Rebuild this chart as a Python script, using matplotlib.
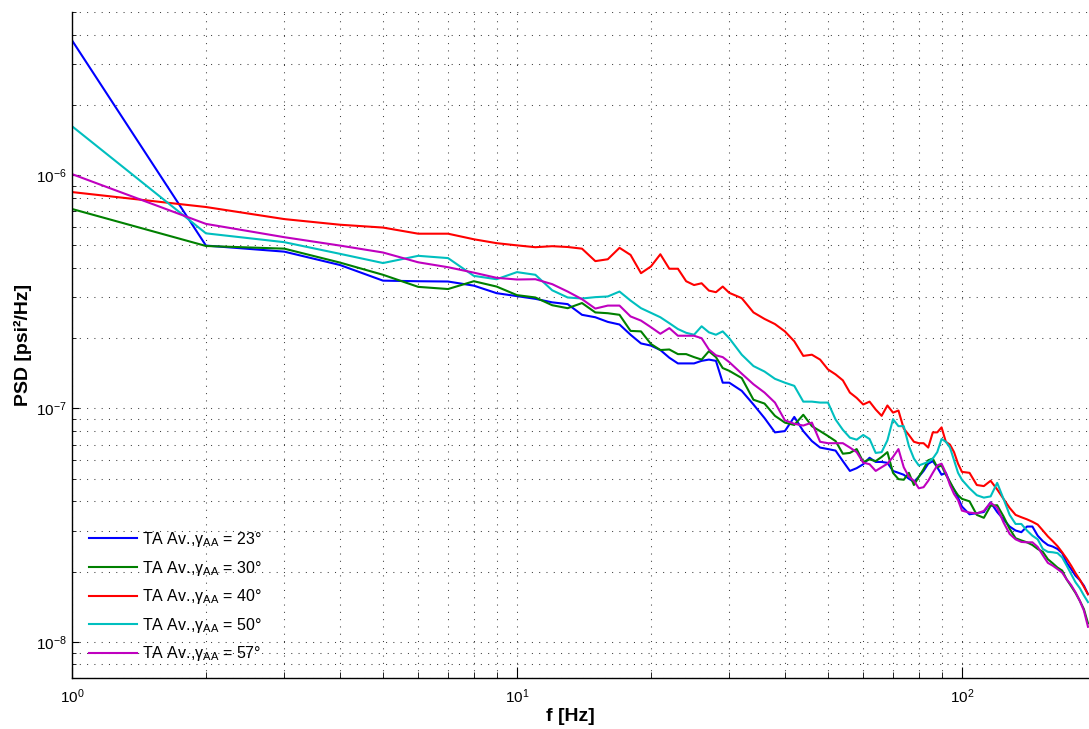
import numpy as np
import matplotlib
matplotlib.use("Agg")
import matplotlib.pyplot as plt
from matplotlib.ticker import LogLocator, LogFormatterSciNotation, NullFormatter

plt.rcParams['font.family'] = ['Liberation Sans', 'DejaVu Sans']
plt.rcParams['mathtext.fontset'] = 'custom'
plt.rcParams['mathtext.rm'] = 'Liberation Sans'
plt.rcParams['mathtext.it'] = 'Liberation Sans:italic'
plt.rcParams['mathtext.bf'] = 'Liberation Sans:bold'

# frequency grid [Hz]
freq = list(range(1, 31)) + list(range(32, 101, 2)) + list(range(104, 193, 4))

# PSD [psi^2/Hz]
psd_23 = [3.78e-6, 4.99e-7, 4.70e-7, 4.12e-7, 3.53e-7, 3.51e-7, 3.50e-7, 3.36e-7, 3.12e-7, 3.03e-7,
          2.95e-7, 2.85e-7, 2.80e-7, 2.52e-7, 2.46e-7, 2.35e-7, 2.29e-7, 2.07e-7, 1.90e-7, 1.86e-7,
          1.78e-7, 1.65e-7, 1.56e-7, 1.56e-7, 1.56e-7, 1.60e-7, 1.62e-7, 1.60e-7, 1.29e-7, 1.29e-7,
          1.19e-7, 1.04e-7, 9.1e-8, 7.9e-8, 8.0e-8, 9.2e-8, 8.0e-8, 7.25e-8, 6.8e-8, 6.7e-8,
          6.6e-8, 5.95e-8, 5.4e-8, 5.55e-8, 5.77e-8, 6.15e-8, 5.9e-8, 5.9e-8, 5.85e-8, 5.4e-8,
          5.3e-8, 5.2e-8, 5.0e-8, 4.85e-8, 5.1e-8, 5.4e-8, 5.8e-8, 5.95e-8, 5.6e-8, 5.2e-8,
          5.3e-8, 4.8e-8, 4.5e-8, 4.15e-8, 3.8e-8,
          3.52e-8, 3.56e-8, 3.6e-8, 3.96e-8, 3.6e-8, 3.35e-8, 3.12e-8, 3.0e-8, 2.95e-8, 3.12e-8,
          3.12e-8, 2.85e-8, 2.7e-8, 2.6e-8, 2.56e-8, 2.5e-8, 2.4e-8, 2.18e-8, 2.05e-8, 1.92e-8,
          1.84e-8, 1.74e-8, 1.6e-8]
psd_30 = [7.16e-7, 4.97e-7, 4.84e-7, 4.22e-7, 3.74e-7, 3.32e-7, 3.25e-7, 3.51e-7, 3.33e-7, 3.06e-7,
          2.99e-7, 2.77e-7, 2.69e-7, 2.83e-7, 2.58e-7, 2.56e-7, 2.52e-7, 2.15e-7, 2.14e-7, 1.89e-7,
          1.78e-7, 1.79e-7, 1.71e-7, 1.71e-7, 1.66e-7, 1.62e-7, 1.76e-7, 1.66e-7, 1.49e-7, 1.45e-7,
          1.35e-7, 1.09e-7, 1.05e-7, 9.3e-8, 8.7e-8, 8.5e-8, 9.4e-8, 8.4e-8, 8.0e-8, 7.62e-8,
          7.25e-8, 6.4e-8, 6.45e-8, 6.7e-8, 5.9e-8, 6.05e-8, 5.95e-8, 6.2e-8, 6.5e-8, 5.3e-8,
          4.98e-8, 4.95e-8, 5.3e-8, 4.7e-8, 5.1e-8, 5.5e-8, 6.0e-8, 6.1e-8, 5.6e-8, 5.7e-8,
          5.2e-8, 4.85e-8, 4.5e-8, 4.25e-8, 4.1e-8,
          4.0e-8, 3.5e-8, 3.4e-8, 3.83e-8, 3.85e-8, 3.45e-8, 3.05e-8, 2.78e-8, 2.72e-8, 2.67e-8,
          2.6e-8, 2.5e-8, 2.43e-8, 2.26e-8, 2.17e-8, 2.08e-8, 2.02e-8, 1.85e-8, 1.73e-8, 1.62e-8,
          1.5e-8, 1.38e-8, 1.2e-8]
psd_40 = [8.46e-7, 7.3e-7, 6.48e-7, 6.13e-7, 5.96e-7, 5.61e-7, 5.61e-7, 5.31e-7, 5.11e-7, 5.0e-7,
          4.91e-7, 4.96e-7, 4.92e-7, 4.84e-7, 4.28e-7, 4.36e-7, 4.88e-7, 4.55e-7, 3.80e-7, 4.06e-7,
          4.58e-7, 3.97e-7, 3.97e-7, 3.51e-7, 3.38e-7, 3.44e-7, 3.2e-7, 3.15e-7, 3.33e-7, 3.13e-7,
          2.97e-7, 2.58e-7, 2.42e-7, 2.30e-7, 2.14e-7, 1.94e-7, 1.68e-7, 1.70e-7, 1.62e-7, 1.47e-7,
          1.40e-7, 1.32e-7, 1.17e-7, 1.11e-7, 1.04e-7, 1.07e-7, 9.9e-8, 9.3e-8, 1.03e-7, 9.6e-8,
          9.8e-8, 8.2e-8, 7.7e-8, 7.2e-8, 7.1e-8, 7.1e-8, 6.8e-8, 7.9e-8, 7.9e-8, 8.3e-8,
          7.2e-8, 7.0e-8, 6.5e-8, 5.8e-8, 5.35e-8,
          5.3e-8, 4.7e-8, 4.65e-8, 4.9e-8, 4.5e-8, 4.1e-8, 3.75e-8, 3.5e-8, 3.42e-8, 3.35e-8,
          3.27e-8, 3.18e-8, 3.0e-8, 2.83e-8, 2.7e-8, 2.57e-8, 2.42e-8, 2.27e-8, 2.12e-8, 1.97e-8,
          1.85e-8, 1.72e-8, 1.6e-8]
psd_50 = [1.62e-6, 5.63e-7, 5.16e-7, 4.60e-7, 4.20e-7, 4.51e-7, 4.41e-7, 3.70e-7, 3.58e-7, 3.84e-7,
          3.74e-7, 3.21e-7, 2.99e-7, 2.96e-7, 3.0e-7, 3.02e-7, 3.17e-7, 2.90e-7, 2.69e-7, 2.57e-7,
          2.46e-7, 2.32e-7, 2.19e-7, 2.11e-7, 2.07e-7, 2.25e-7, 2.12e-7, 2.07e-7, 2.14e-7, 2.0e-7,
          1.70e-7, 1.52e-7, 1.44e-7, 1.34e-7, 1.29e-7, 1.25e-7, 1.07e-7, 1.07e-7, 1.06e-7, 1.06e-7,
          8.97e-8, 8.1e-8, 7.5e-8, 7.35e-8, 7.7e-8, 7.4e-8, 6.45e-8, 6.5e-8, 7.3e-8, 9.0e-8,
          8.4e-8, 8.4e-8, 6.9e-8, 6.1e-8, 5.7e-8, 5.8e-8, 5.9e-8, 6.1e-8, 6.5e-8, 7.4e-8,
          7.2e-8, 6.8e-8, 6.0e-8, 5.3e-8, 4.95e-8,
          4.55e-8, 4.25e-8, 4.15e-8, 4.2e-8, 4.8e-8, 4.1e-8, 3.5e-8, 3.2e-8, 3.2e-8, 3.0e-8,
          2.85e-8, 2.75e-8, 2.5e-8, 2.43e-8, 2.42e-8, 2.4e-8, 2.3e-8, 2.12e-8, 1.95e-8, 1.8e-8,
          1.7e-8, 1.58e-8, 1.48e-8]
psd_57 = [1.01e-6, 6.18e-7, 5.42e-7, 4.99e-7, 4.66e-7, 4.23e-7, 4.03e-7, 3.82e-7, 3.63e-7, 3.57e-7,
          3.58e-7, 3.41e-7, 3.17e-7, 2.94e-7, 2.68e-7, 2.76e-7, 2.76e-7, 2.48e-7, 2.38e-7, 2.23e-7,
          2.09e-7, 2.21e-7, 2.05e-7, 2.05e-7, 2.05e-7, 2.0e-7, 1.79e-7, 1.69e-7, 1.66e-7, 1.58e-7,
          1.41e-7, 1.27e-7, 1.17e-7, 1.06e-7, 8.9e-8, 8.6e-8, 8.45e-8, 8.7e-8, 7.2e-8, 7.1e-8,
          7.1e-8, 7.1e-8, 6.8e-8, 6.5e-8, 5.86e-8, 5.77e-8, 5.4e-8, 5.6e-8, 5.8e-8, 6.2e-8,
          6.7e-8, 5.6e-8, 5.1e-8, 4.9e-8, 4.55e-8, 4.6e-8, 4.9e-8, 5.3e-8, 5.7e-8, 5.8e-8,
          5.3e-8, 4.7e-8, 4.3e-8, 4.05e-8, 3.65e-8,
          3.58e-8, 3.55e-8, 3.64e-8, 3.95e-8, 3.75e-8, 3.25e-8, 2.9e-8, 2.75e-8, 2.68e-8, 2.67e-8,
          2.67e-8, 2.55e-8, 2.35e-8, 2.18e-8, 2.12e-8, 2.05e-8, 1.98e-8, 1.85e-8, 1.75e-8, 1.63e-8,
          1.5e-8, 1.36e-8, 1.16e-8]

angles = [23, 30, 40, 50, 57]
series = [psd_23, psd_30, psd_40, psd_50, psd_57]
colors = [(0, 0, 1), (0, 0.5, 0), (1, 0, 0), (0, 0.75, 0.75), (0.75, 0, 0.75)]

fig = plt.figure(figsize=(10.89, 7.29), dpi=100, facecolor="white")
ax = fig.add_axes([72/1089, 51/729, 1017/1089, 666/729])

for ang, psd, c in zip(angles, series, colors):
    ax.loglog(freq, psd, color=c, lw=1.5,
              label='TA Av.,\u03b3$_{\\mathrm{AA}}$ = %d\u00b0' % ang)

ax.set_xlim(1, 193)
ax.set_ylim(7e-9, 5e-6)

for axis in (ax.xaxis, ax.yaxis):
    axis.set_major_locator(LogLocator(base=10, numticks=20))
    axis.set_minor_locator(LogLocator(base=10, subs=np.arange(2, 10), numticks=20))
    axis.set_major_formatter(LogFormatterSciNotation())
    axis.set_minor_formatter(NullFormatter())

ax.grid(True, which='both', color='0.25', linestyle=(0, (1, 6)), linewidth=0.75)
ax.set_axisbelow(True)

ax.spines['top'].set_visible(False)
ax.spines['right'].set_visible(False)
ax.spines['left'].set_linewidth(1.0)
ax.spines['bottom'].set_linewidth(1.0)

ax.tick_params(axis='both', which='both', direction='in', labelsize=11, top=False, right=False)
ax.tick_params(axis='x', which='major', length=8, pad=7)
ax.tick_params(axis='x', which='minor', length=4)
ax.tick_params(axis='y', which='major', length=5, pad=4)
ax.tick_params(axis='y', which='minor', length=3)

ax.set_xlabel('f [Hz]', fontsize=14, fontweight='bold')
ax.set_ylabel('PSD [psi\u00b2/Hz]', fontsize=14, fontweight='bold')
ax.xaxis.set_label_coords(0.49, -0.045)
ax.yaxis.set_label_coords(-0.0395, 0.5)

ax.legend(loc='lower left', bbox_to_anchor=(0.017, 0.022), frameon=False, fontsize=11.5,
          handlelength=3.0, handletextpad=0.3, labelspacing=0.6, borderpad=0, borderaxespad=0)

fig.savefig('out.png', dpi=100, facecolor="white")
